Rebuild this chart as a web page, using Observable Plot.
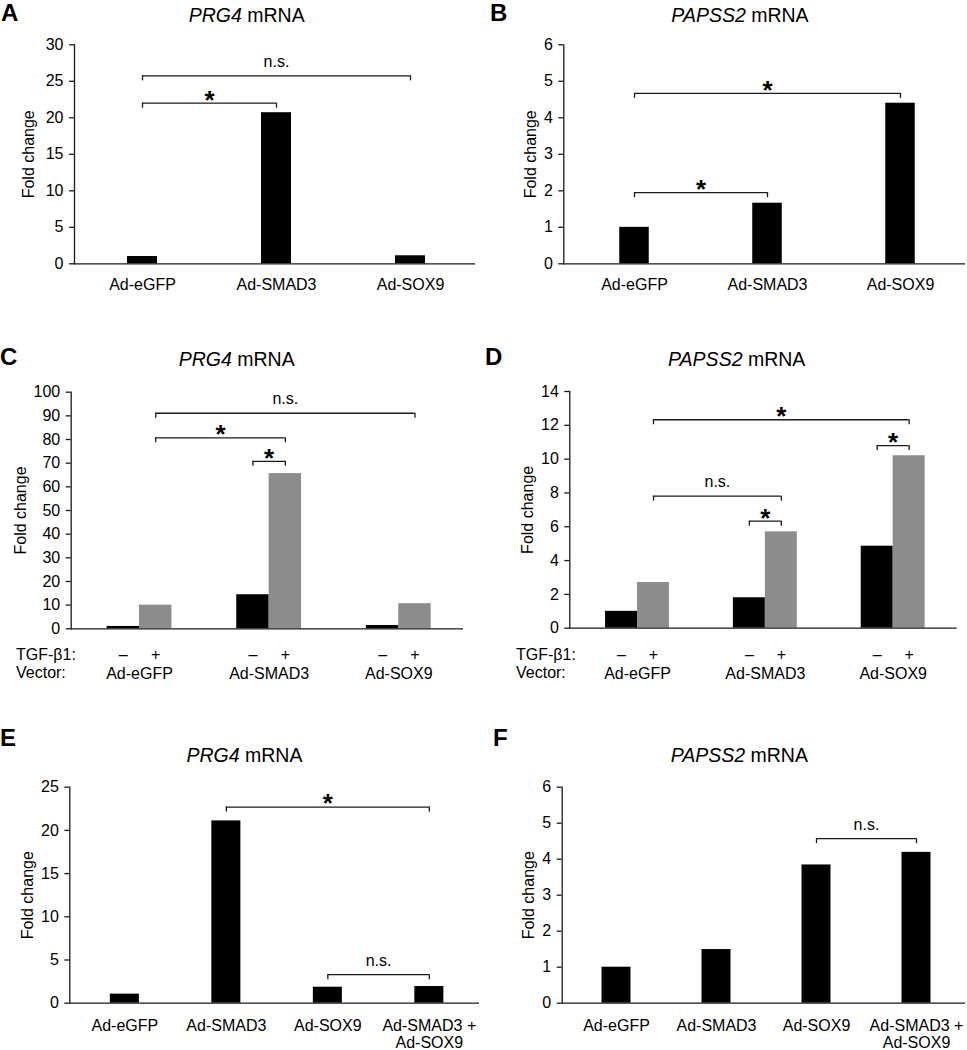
<!DOCTYPE html>
<html><head><meta charset="utf-8">
<script src="https://cdn.jsdelivr.net/npm/d3@7"></script>
<script src="https://cdn.jsdelivr.net/npm/@observablehq/plot@0.6"></script>
<style>
body{margin:0;background:#fff;}
#fig{position:relative;width:967px;height:1050px;overflow:hidden;background:#fff;}
#fig .panel{position:absolute;}
#fig svg{overflow:visible;}
</style></head><body><div id="fig"></div>
<script>
// ---------- DATA ----------
// Panel A: PRG4 mRNA
const aCategories = ["Ad-eGFP", "Ad-SMAD3", "Ad-SOX9"];
const aValues = [1.0, 20.7, 1.1];
const aTicks = [0, 5, 10, 15, 20, 25, 30];
const aBrackets = [
  {from: "Ad-eGFP", to: "Ad-SOX9", level: 25.75, label: "n.s."},
  {from: "Ad-eGFP", to: "Ad-SMAD3", level: 22.0, label: "*"}
];
// Panel B: PAPSS2 mRNA
const bCategories = ["Ad-eGFP", "Ad-SMAD3", "Ad-SOX9"];
const bValues = [1.0, 1.66, 4.4];
const bTicks = [0, 1, 2, 3, 4, 5, 6];
const bBrackets = [
  {from: "Ad-eGFP", to: "Ad-SOX9", level: 4.67, label: "*"},
  {from: "Ad-eGFP", to: "Ad-SMAD3", level: 1.95, label: "*"}
];
// Panel C: PRG4 mRNA, TGF-β1 – / +
const cVectors = ["Ad-eGFP", "Ad-SMAD3", "Ad-SOX9"];
const cWithoutTGF = [1.0, 14.4, 1.4];
const cWithTGF = [10.0, 65.6, 10.6];
const cTicks = [0, 10, 20, 30, 40, 50, 60, 70, 80, 90, 100];
const cBrackets = [
  {from: ["Ad-eGFP", "+"], to: ["Ad-SOX9", "+"], level: 91.1, label: "n.s."},
  {from: ["Ad-eGFP", "+"], to: ["Ad-SMAD3", "+"], level: 80.7, label: "*"},
  {from: ["Ad-SMAD3", "–"], to: ["Ad-SMAD3", "+"], level: 70.8, label: "*"}
];
// Panel D: PAPSS2 mRNA, TGF-β1 – / +
const dVectors = ["Ad-eGFP", "Ad-SMAD3", "Ad-SOX9"];
const dWithoutTGF = [1.0, 1.8, 4.85];
const dWithTGF = [2.7, 5.7, 10.2];
const dTicks = [0, 2, 4, 6, 8, 10, 12, 14];
const dBrackets = [
  {from: ["Ad-eGFP", "+"], to: ["Ad-SOX9", "+"], level: 12.33, label: "*"},
  {from: ["Ad-SOX9", "–"], to: ["Ad-SOX9", "+"], level: 10.8, label: "*"},
  {from: ["Ad-eGFP", "+"], to: ["Ad-SMAD3", "+"], level: 7.81, label: "n.s."},
  {from: ["Ad-SMAD3", "–"], to: ["Ad-SMAD3", "+"], level: 6.33, label: "*"}
];
const tgfSigns = ["–", "+"];
// Panel E: PRG4 mRNA
const eCategories = ["Ad-eGFP", "Ad-SMAD3", "Ad-SOX9", "Ad-SMAD3 +\nAd-SOX9"];
const eValues = [1.05, 21.1, 1.85, 1.93];
const eTicks = [0, 5, 10, 15, 20, 25];
const eBrackets = [
  {from: "Ad-SMAD3", to: "Ad-SMAD3 +\nAd-SOX9", level: 22.7, label: "*"},
  {from: "Ad-SOX9", to: "Ad-SMAD3 +\nAd-SOX9", level: 3.3, label: "n.s."}
];
// Panel F: PAPSS2 mRNA
const fCategories = ["Ad-eGFP", "Ad-SMAD3", "Ad-SOX9", "Ad-SMAD3 +\nAd-SOX9"];
const fValues = [1.0, 1.49, 3.84, 4.19];
const fTicks = [0, 1, 2, 3, 4, 5, 6];
const fBrackets = [
  {from: "Ad-SOX9", to: "Ad-SMAD3 +\nAd-SOX9", level: 4.57, label: "n.s."}
];

// ---------- STYLE ----------
const FONT = '"Liberation Sans", Arial, Helvetica, sans-serif';
const BLACK = "#000000", GRAY = "#8c8c8c", INK = "#1a1a1a";
const FS = 16;
const fig = document.getElementById("fig");

function bracketMarks(bs) {
  const ends = bs.flatMap(b => [{x: b.x1, level: b.level}, {x: b.x2, level: b.level}]);
  const mid = b => (b.x1 + b.x2) / 2;
  return [
    Plot.ruleY(bs, {y: "level", x1: "x1", x2: "x2", stroke: INK, strokeWidth: 1.3}),
    Plot.ruleX(ends, {x: "x", y1: "level", y2: "level", insetBottom: -5, stroke: INK, strokeWidth: 1.3}),
    Plot.text(bs.filter(b => b.label === "*"), {x: mid, y: "level", text: "label", fontSize: 26, fontWeight: "bold", dy: -3}),
    Plot.text(bs.filter(b => b.label !== "*"), {x: mid, y: "level", text: "label", fontSize: FS, dy: -14})
  ];
}

function makePlot(cfg) {
  const svg = Plot.plot({
    width: cfg.width, height: cfg.height,
    marginTop: cfg.mt, marginRight: cfg.mr, marginBottom: cfg.mb, marginLeft: cfg.ml,
    x: {type: "linear", domain: [-0.5, cfg.n - 0.5], range: cfg.xRange, axis: null},
    y: {domain: cfg.yDomain, axis: null},
    style: `font-family: ${FONT}; font-size: ${FS}px; color: #000; background: transparent; overflow: visible;`,
    marks: [
      ...cfg.marks,
      Plot.ruleY([0], {stroke: INK, strokeWidth: 1.3}),
      Plot.frame({anchor: "left", stroke: INK, strokeWidth: 1.3}),
      Plot.axisY(cfg.yTicks, {tickSize: 5, tickFormat: () => "", label: null, stroke: INK, strokeWidth: 1.3}),
      Plot.text(cfg.yTicks, {y: d => d, frameAnchor: "left", textAnchor: "end", dx: -11, text: d => String(d), fontSize: FS}),
      Plot.text(["Fold change"], {frameAnchor: "left", textAnchor: "middle", lineAnchor: "middle", rotate: -90, dx: cfg.foldDx, text: d => d, fontSize: FS}),
      ...bracketMarks(cfg.brackets)
    ]
  });
  svg.classList.add("panel");
  svg.style.left = cfg.left + "px";
  svg.style.top = cfg.top + "px";
  fig.appendChild(svg);
}

function simplePanel(cfg, cats, vals, ticks, brackets, hw, pad) {
  const bars = cats.map((c, i) => ({i, value: vals[i]}));
  makePlot({
    ...cfg, n: cats.length, yDomain: [0, ticks[ticks.length - 1]], yTicks: ticks,
    brackets: brackets.map(b => ({x1: cats.indexOf(b.from), x2: cats.indexOf(b.to), level: b.level, label: b.label})),
    marks: [
      Plot.rectY(bars, {x1: d => d.i - hw, x2: d => d.i + hw, y1: 0, y2: "value", fill: BLACK}),
      Plot.text(cats, {x: (d, i) => i, frameAnchor: "bottom", textAnchor: "middle", lineAnchor: "top", dy: pad, lineHeight: 1.1, text: d => d, fontSize: FS})
    ]
  });
}

function groupedPanel(cfg, vectors, without, withT, ticks, brackets) {
  const sub = 0.25; // sub-bar width in group units
  const pos = (v, s) => vectors.indexOf(v) + (s === tgfSigns[0] ? -sub / 2 : sub / 2);
  const rowsWithout = vectors.map((v, i) => ({i, value: without[i]}));
  const rowsWith = vectors.map((v, i) => ({i, value: withT[i]}));
  const signTicks = vectors.flatMap(v => tgfSigns.map(s => ({v, s})));
  makePlot({
    ...cfg, n: vectors.length, yDomain: [0, ticks[ticks.length - 1]], yTicks: ticks,
    brackets: brackets.map(b => ({x1: pos(...b.from), x2: pos(...b.to), level: b.level, label: b.label})),
    marks: [
      Plot.rectY(rowsWithout, {x1: d => d.i - sub, x2: d => d.i, y1: 0, y2: "value", fill: BLACK}),
      Plot.rectY(rowsWith, {x1: d => d.i, x2: d => d.i + sub, y1: 0, y2: "value", fill: GRAY}),
      Plot.text(signTicks, {x: d => pos(d.v, d.s), frameAnchor: "bottom", textAnchor: "middle", lineAnchor: "top", dy: 20, text: "s", fontSize: FS}),
      Plot.text(vectors, {x: (d, i) => i, frameAnchor: "bottom", textAnchor: "middle", lineAnchor: "top", dy: 39, text: d => d, fontSize: FS})
    ]
  });
}

simplePanel({left: 0, top: 0, width: 480, height: 300, mt: 44.3, mr: 5, mb: 36.7, ml: 74, xRange: [75, 477], foldDx: -46},
  aCategories, aValues, aTicks, aBrackets, 0.112, 14);
simplePanel({left: 480, top: 0, width: 487, height: 300, mt: 44.3, mr: 2, mb: 36.7, ml: 83.3, xRange: [87.5, 486.5], foldDx: -33},
  bCategories, bValues, bTicks, bBrackets, 0.111, 14);
groupedPanel({left: 0, top: 330, width: 480, height: 360, mt: 61.7, mr: 17, mb: 61.7, ml: 70.7, xRange: [74.2, 463.1], foldDx: -50},
  cVectors, cWithoutTGF, cWithTGF, cTicks, cBrackets);
groupedPanel({left: 480, top: 330, width: 487, height: 360, mt: 61, mr: 10.3, mb: 62.3, ml: 89.3, xRange: [93.1, 476.6], foldDx: -42},
  dVectors, dWithoutTGF, dWithTGF, dTicks, dBrackets);
simplePanel({left: 0, top: 690, width: 480, height: 360, mt: 96.7, mr: 1, mb: 47.3, ml: 69.3, xRange: [73.6, 479.6], foldDx: -42},
  eCategories, eValues, eTicks, eBrackets, 0.143, 15);
simplePanel({left: 480, top: 690, width: 487, height: 360, mt: 96.7, mr: 2, mb: 47.3, ml: 81.7, xRange: [86, 486], foldDx: -33},
  fCategories, fValues, fTicks, fBrackets, 0.145, 15);

// ---------- Panel letters, titles, row labels ----------
const letters = [["A", 1, 20.7], ["B", 490, 20.7], ["C", 0, 365], ["D", 485, 365], ["E", 0, 745.7], ["F", 493, 745.7]];
const titles = [["PRG4", 246.7, 21.7], ["PAPSS2", 740, 21.7], ["PRG4", 236.7, 366], ["PAPSS2", 736.7, 366], ["PRG4", 244.5, 761.7], ["PAPSS2", 739.3, 761.7]];
const rowLabels = [["TGF-β1:", 16, 659.7], ["Vector:", 16, 678.4], ["TGF-β1:", 516, 659.7], ["Vector:", 516, 678.4]];

const ov = d3.select(fig).append("svg")
  .attr("width", 967).attr("height", 1050)
  .style("position", "absolute").style("left", "0px").style("top", "0px")
  .style("pointer-events", "none").style("font-family", FONT);
ov.selectAll("text.letter").data(letters).join("text").attr("class", "letter")
  .attr("x", d => d[1]).attr("y", d => d[2]).attr("font-size", 24).attr("font-weight", "bold").attr("fill", "#000").text(d => d[0]);
const t = ov.selectAll("text.title").data(titles).join("text").attr("class", "title")
  .attr("x", d => d[1]).attr("y", d => d[2]).attr("font-size", 19.5).attr("text-anchor", "middle").attr("fill", "#000");
t.append("tspan").attr("font-style", "italic").text(d => d[0]);
t.append("tspan").text(" mRNA");
ov.selectAll("text.row").data(rowLabels).join("text").attr("class", "row")
  .attr("x", d => d[1]).attr("y", d => d[2]).attr("font-size", FS).attr("fill", "#000").text(d => d[0]);
</script></body></html>
